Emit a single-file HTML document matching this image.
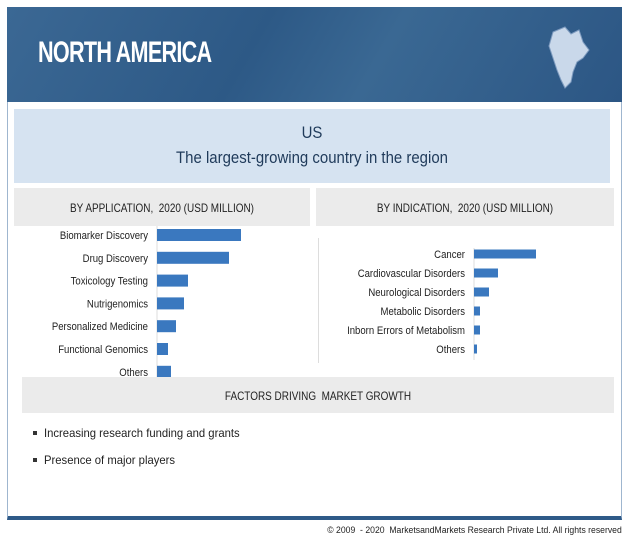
<!DOCTYPE html>
<html><head><meta charset="utf-8"><style>
body{margin:0;width:632px;height:541px;background:#fff;position:relative;overflow:hidden;font-family:"Liberation Sans",sans-serif;color:#222}
div{position:absolute;box-sizing:border-box}
.t{white-space:nowrap}
</style></head><body>
<div style="left:7px;top:7px;width:615px;height:513px;border:1px solid #9fb6cf;border-bottom:4px solid #2e5a88"></div>
<div style="left:7px;top:7px;width:615px;height:95px;background:linear-gradient(120deg,#3b6894 0%,#2d5986 40%,#3a6893 60%,#2c5684 100%)"></div>
<div class="t" style="left:38px;top:36px;font-size:30px;font-weight:bold;color:#fff;letter-spacing:-1px;transform:scaleX(0.72);transform-origin:left">NORTH AMERICA</div>
<svg style="position:absolute;left:543px;top:22px" width="50" height="80"><path d="M10 10 L22 5 L28 12 L36 8 L40 20 L46 28 L40 36 L34 40 L30 50 L28 60 L22 66 L18 58 L14 48 L10 36 L6 24 Z" fill="#c9d8ea" stroke="#7f9cc0" stroke-width="1"/></svg>
<div style="left:14px;top:109px;width:596px;height:74px;background:#d6e3f1"></div>
<div class="t" style="left:14px;top:123px;width:596px;text-align:center;font-size:17px;color:#1f3a5a;transform:scaleX(0.88)">US</div>
<div class="t" style="left:14px;top:148px;width:596px;text-align:center;font-size:17px;color:#1f3a5a;transform:scaleX(0.88)">The largest-growing country in the region</div>
<div style="left:14px;top:188px;width:296px;height:38px;background:#ebebeb"></div>
<div class="t" style="left:14px;top:201px;width:296px;text-align:center;font-size:12px;transform:scaleX(0.83)">BY APPLICATION,&nbsp; 2020 (USD MILLION)</div>
<div style="left:316px;top:188px;width:298px;height:38px;background:#ebebeb"></div>
<div class="t" style="left:316px;top:201px;width:298px;text-align:center;font-size:12px;transform:scaleX(0.83)">BY INDICATION,&nbsp; 2020 (USD MILLION)</div>
<div style="left:318px;top:238px;width:1px;height:125px;background:#ddd"></div>
<svg id="chart" style="position:absolute;left:0;top:0" width="632" height="541"></svg>
<div style="left:22px;top:377px;width:592px;height:36px;background:#ebebeb"></div>
<div class="t" style="left:22px;top:389px;width:592px;text-align:center;font-size:12px;transform:scaleX(0.83)">FACTORS DRIVING&nbsp; MARKET GROWTH</div>
<div style="left:33px;top:431px;width:4px;height:4px;background:#333"></div>
<div class="t" style="left:44px;top:426px;font-size:12px;transform:scaleX(0.94);transform-origin:left">Increasing research funding and grants</div>
<div style="left:33px;top:458px;width:4px;height:4px;background:#333"></div>
<div class="t" style="left:44px;top:453px;font-size:12px;transform:scaleX(0.94);transform-origin:left">Presence of major players</div>
<div class="t" style="right:10px;top:525px;font-size:9px;transform:scaleX(0.96);transform-origin:right">© 2009&nbsp; - 2020&nbsp; MarketsandMarkets Research Private Ltd. All rights reserved</div>
<script>
const appCats=["Biomarker Discovery","Drug Discovery","Toxicology Testing","Nutrigenomics","Personalized Medicine","Functional Genomics","Others"];
const appVals=[84,72,31,27,19,11,14];
const indCats=["Cancer","Cardiovascular Disorders","Neurological Disorders","Metabolic Disorders","Inborn Errors of Metabolism","Others"];
const indVals=[62,24,15,6,6,3];
const svg=document.getElementById('chart');
const NS='http://www.w3.org/2000/svg';
function draw(cats,vals,x0,y0,step,bh,name,axisTop,axisBot){
  const ax=document.createElementNS(NS,'line');
  ax.setAttribute('x1',x0);ax.setAttribute('x2',x0);ax.setAttribute('y1',axisTop);ax.setAttribute('y2',axisBot);
  ax.setAttribute('stroke','#ddd');
  
  
  svg.appendChild(ax);
  cats.forEach((c,i)=>{
    const yc=y0+i*step;
    const r=document.createElementNS(NS,'rect');
    r.setAttribute('x',x0);r.setAttribute('y',yc-bh/2);r.setAttribute('width',vals[i]);r.setAttribute('height',bh);r.setAttribute('fill','#3a78bf');
    
    
    svg.appendChild(r);
    const t=document.createElementNS(NS,'text');
    t.setAttribute('x',0);t.setAttribute('y',0);t.setAttribute('text-anchor','end');t.setAttribute('font-size','11');
    t.setAttribute('transform','translate('+(x0-9)+','+(yc+4)+') scale(0.87,1)');
    t.setAttribute('font-family','"Liberation Sans",sans-serif');t.setAttribute('fill','#222');
    t.textContent=c;
    
    
    svg.appendChild(t);
  });
}
draw(appCats,appVals,157,235,22.8,12,'application',226,380);
draw(indCats,indVals,474,254,19,9,'indication',248,360);
</script>
</body></html>
